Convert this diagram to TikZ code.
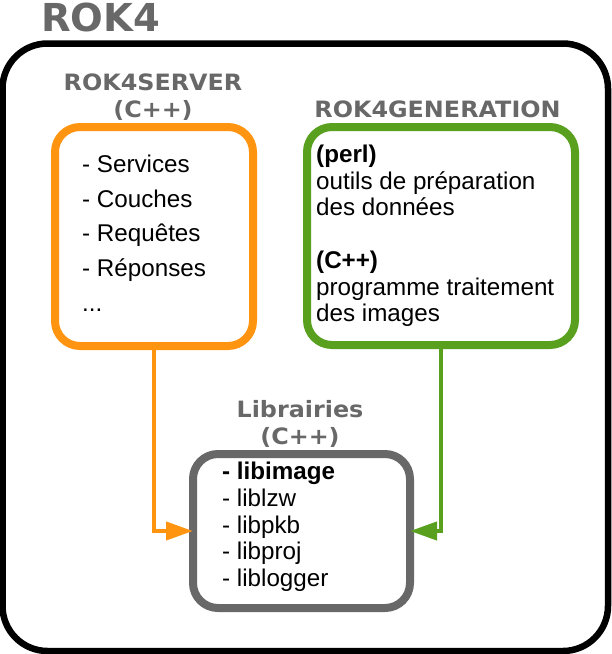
\documentclass[tikz,border=0pt]{standalone}
\usepackage{fontspec}
\setmainfont{Liberation Sans}
\newfontfamily\headfont{DejaVu Sans}[FakeStretch=1.06]
\newfontfamily\titlefont{DejaVu Sans}
\usetikzlibrary{arrows.meta}
\definecolor{rokorange}{RGB}{255,148,17}
\definecolor{rokgreen}{RGB}{88,160,30}
\definecolor{rokgray}{RGB}{104,104,104}
\begin{document}
\begin{tikzpicture}[x=1pt,y=-1pt,
  box/.style={draw, line width=8pt, rounded corners=25pt, outer sep=0pt, inner sep=0pt, fill=white},
  head/.style={font=\headfont\bfseries\fontsize{22.5}{27}\selectfont, text=rokgray, anchor=base, inner sep=0pt},
  body/.style={font=\fontsize{24.2}{26.5}\selectfont, anchor=base west, inner sep=0pt},
  conn/.style={line width=4pt, -{Triangle[length=27pt,width=18pt]}}]
\useasboundingbox (0,0) rectangle (612,654);
% outer frame
\node[draw, line width=6.5pt, rounded corners=45pt, minimum width=605.5pt, minimum height=607.5pt, outer sep=0pt, inner sep=0pt] (rok4) at (305.25,347.25) {};
\node[font=\titlefont\bfseries\fontsize{38.5}{40}\selectfont, text=rokgray, anchor=base, inner sep=0pt] (title) at (100.5,31) {ROK4};
% boxes
\node[box, draw=rokorange, minimum width=198pt, minimum height=219pt] (srv) at (154,236.5) {};
\node[box, draw=rokgreen, minimum width=268pt, minimum height=218pt] (gen) at (441,236) {};
\node[box, draw=rokgray, minimum width=217pt, minimum height=154pt] (lib) at (301.5,531) {};
% connectors
\draw[conn, rokorange] (srv.south) |- (lib.west);
\draw[conn, rokgreen] (gen.south) |- (lib.east);
% headings
\node[head] (srvh1) at (153,90) {ROK4SERVER};
\node[head] (srvh2) at (153,117) {(C++)};
\node[head] (genh) at (437.5,117.7) {ROK4GENERATION};
\node[head] (libh1) at (300,417) {Librairies};
\node[head] (libh2) at (300,444) {(C++)};
% server text
\node[body] (o1) at (82,172.7) {- Services};
\node[body] (o2) at (82,207.3) {- Couches};
\node[body] (o3) at (82,241.9) {- Requêtes};
\node[body] (o4) at (82,276.5) {- Réponses};
\node[body] (o5) at (82,311.1) {...};
% generation text
\node[body] (g1) at (316,162.5) {\bfseries (perl)};
\node[body] (g2) at (316,189) {outils de préparation};
\node[body] (g3) at (316,215.5) {des données};
\node[body] (g4) at (316,268.5) {\bfseries (C++)};
\node[body] (g5) at (316,295) {programme traitement};
\node[body] (g6) at (316,321.5) {des images};
% library text
\node[body] (l1) at (222,479.5) {\bfseries - libimage};
\node[body] (l2) at (222,506.3) {- liblzw};
\node[body] (l3) at (222,533.1) {- libpkb};
\node[body] (l4) at (222,559.9) {- libproj};
\node[body] (l5) at (222,586.7) {- liblogger};
\end{tikzpicture}
\end{document}
